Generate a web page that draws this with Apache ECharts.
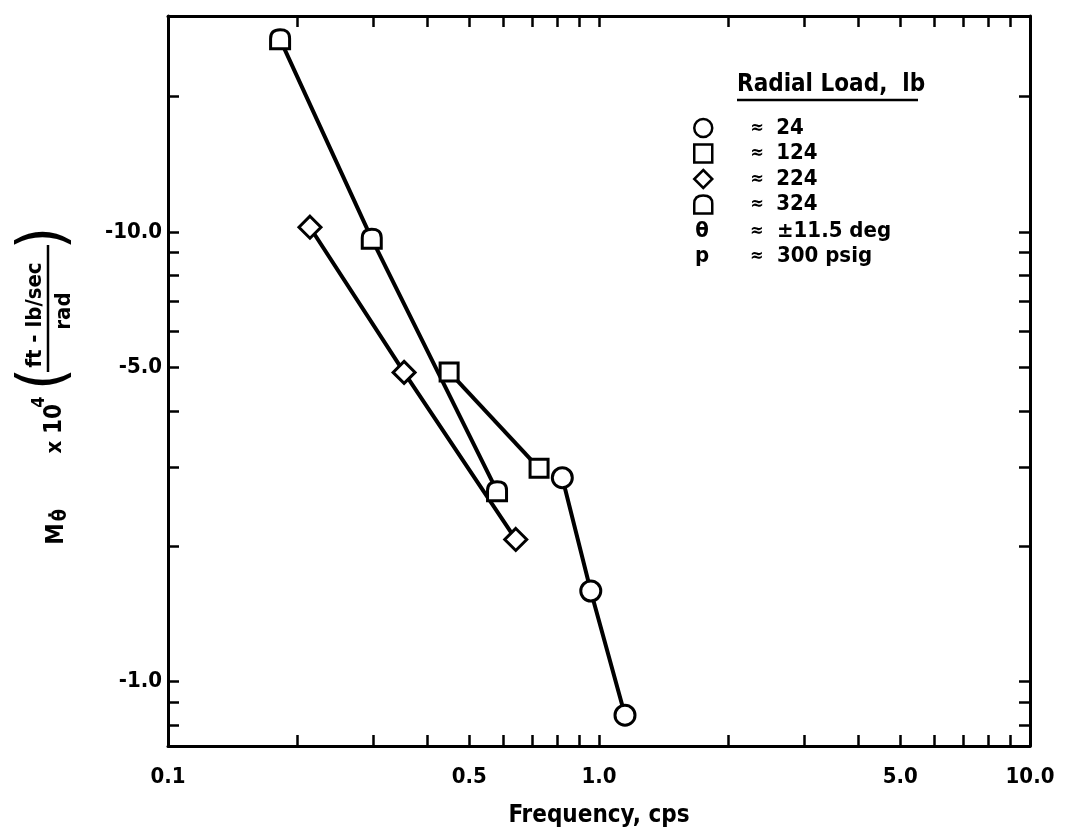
<!DOCTYPE html>
<html><head><meta charset="utf-8">
<script src="https://cdn.jsdelivr.net/npm/echarts@6/dist/echarts.min.js"></script>
<style>html,body{margin:0;padding:0;background:#fff}#c{width:1073px;height:836px}</style>
</head><body><div id="c"></div>
<script>
// ---- data (frequency in cps, |M_theta_dot| x 1e4; plotted magnitudes are negative) ----
const freq24 = [0.822, 0.957, 1.149];
const mag24 = [2.84, 1.59, 0.842];
const freq124 = [0.449, 0.726];
const mag124 = [4.88, 2.98];
const freq224 = [0.2135, 0.353, 0.641];
const mag224 = [10.24, 4.87, 2.07];
const freq324 = [0.182, 0.297, 0.580];
const mag324 = [26.8, 9.65, 2.65];
const loadNames = ['24', '124', '224', '324'];
const xTickValues = [0.2, 0.3, 0.4, 0.5, 0.6, 0.7, 0.8, 0.9, 1, 2, 3, 4, 5, 6, 7, 8, 9];
const xLabelValues = [0.1, 0.5, 1, 5, 10];
const yTickValues = [0.8, 0.9, 1, 2, 3, 4, 5, 6, 7, 8, 9, 10, 20];
const yLabelValues = [1, 5, 10];

const FONT = "'Liberation Sans Narrow', 'DejaVu Sans Condensed', 'Noto Sans', sans-serif";
const pair = (xs, ys) => xs.map((x, i) => [x, ys[i]]);
const dPath = 'path://M0,20 L0,9 C0,2 4,0 10,0 C16,0 20,2 20,9 L20,20 Z';
const symbols = ['circle', 'rect', 'diamond', dPath];
const symSizes = [20, 18, 22, 19];

const chart = echarts.init(document.getElementById('c'), null, {renderer: 'canvas'});

const axisLineStyle = {color: '#000', width: 3};
function xAxis(pos, showLabels) {
  return {
    type: 'log', logBase: 10, min: 0.1, max: 10, position: pos,
    axisLine: {show: true, lineStyle: axisLineStyle},
    axisTick: {show: true, inside: true, length: 11, lineStyle: {color: '#000', width: 2.5}, customValues: xTickValues},
    axisLabel: {show: showLabels, customValues: xLabelValues, margin: 20,
      formatter: v => Number(v).toFixed(1),
      fontFamily: FONT, fontWeight: 'bold', fontSize: 22, color: '#000'},
    splitLine: {show: false}, minorTick: {show: false},
    name: showLabels ? 'Frequency, cps' : '', nameLocation: 'middle', nameGap: 58,
    nameTextStyle: {fontFamily: FONT, fontWeight: 'bold', fontSize: 24, color: '#000'}
  };
}
function yAxis(pos, showLabels) {
  return {
    type: 'log', logBase: 10, min: 0.719, max: 30.2, position: pos,
    axisLine: {show: true, lineStyle: axisLineStyle},
    axisTick: {show: true, inside: true, length: 11, lineStyle: {color: '#000', width: 2.5}, customValues: yTickValues},
    axisLabel: {show: showLabels, customValues: yLabelValues, margin: 6,
      formatter: v => '-' + Number(v).toFixed(1),
      fontFamily: FONT, fontWeight: 'bold', fontSize: 22, color: '#000'},
    splitLine: {show: false}, minorTick: {show: false}
  };
}

function series(i, xs, ys) {
  return {
    name: loadNames[i], type: 'line', data: pair(xs, ys),
    symbol: symbols[i], symbolSize: symSizes[i],
    itemStyle: {color: '#fff', borderColor: '#000', borderWidth: 3},
    lineStyle: {color: '#000', width: 4},
    emphasis: {disabled: true}, animation: false, z: 3
  };
}

const rot = Math.PI / 2;
function vtext(x, y, text, size, weight) {
  return {type: 'text', x: x, y: y, rotation: rot, z: 10,
    style: {text: text, fontFamily: FONT, fontWeight: weight || 'bold', fontSize: size,
      fill: '#000', align: 'center', verticalAlign: 'middle'}};
}
function htext(x, y, text, size, align) {
  return {type: 'text', x: x, y: y, z: 10,
    style: {text: text, fontFamily: FONT, fontWeight: 'bold', fontSize: size,
      fill: '#000', align: align || 'left', verticalAlign: 'middle'}};
}

chart.setOption({
  backgroundColor: '#fff',
  animation: false,
  grid: {left: 168, right: 43, top: 16, bottom: 90, containLabel: false},
  xAxis: [xAxis('bottom', true), xAxis('top', false)],
  yAxis: [yAxis('left', true), yAxis('right', false)],
  legend: {
    orient: 'vertical', left: 693, top: 117, padding: 0,
    itemWidth: 18, itemHeight: 18, itemGap: 3.5,
    selectedMode: false,
    data: loadNames.map((n, i) => ({name: n, icon: symbols[i]})),
    itemStyle: {color: '#fff', borderColor: '#000', borderWidth: 2.5},
    lineStyle: {width: 0},
    formatter: n => '{s|}{a|≈}{b|' + n + '}',
    textStyle: {
      color: '#000', fontFamily: FONT, fontWeight: 'bold', fontSize: 22, lineHeight: 18,
      rich: {
        s: {width: 33, height: 18, lineHeight: 18},
        a: {width: 26, fontFamily: FONT, fontWeight: 'bold', fontSize: 18, lineHeight: 18, height: 18},
        b: {fontFamily: FONT, fontWeight: 'bold', fontSize: 22, lineHeight: 18, height: 18}
      }
    }
  },
  series: [
    series(0, freq24, mag24),
    series(1, freq124, mag124),
    series(2, freq224, mag224),
    series(3, freq324, mag324)
  ],
  graphic: [
    htext(737, 85, 'Radial Load,  lb', 24),
    {type: 'line', z: 10, shape: {x1: 737, y1: 100, x2: 918, y2: 100}, style: {stroke: '#000', lineWidth: 2.5}},
    htext(702, 231, 'θ', 22, 'center'),
    htext(750, 231, '≈', 18),
    htext(777, 231, '±11.5 deg', 22),
    htext(702, 256, 'p', 22, 'center'),
    htext(750, 256, '≈', 18),
    htext(777, 256, '300 psig', 22),
    // y-axis title: M-theta-dot x 10^4 ((ft - lb/sec)/rad), rotated
    vtext(57, 534, 'M', 24),
    vtext(61, 515, 'θ̇', 20),
    vtext(55, 447, 'x', 22),
    vtext(55, 419, '10', 24),
    vtext(39, 402, '4', 18),
    vtext(46, 379, '(', 64, 'normal'),
    vtext(35, 315, 'ft - lb/sec', 22),
    {type: 'line', z: 10, shape: {x1: 48, y1: 372, x2: 48, y2: 245}, style: {stroke: '#000', lineWidth: 2.5}},
    vtext(64, 311, 'rad', 22),
    vtext(46, 238, ')', 64, 'normal')
  ]
});
</script>
</body></html>
